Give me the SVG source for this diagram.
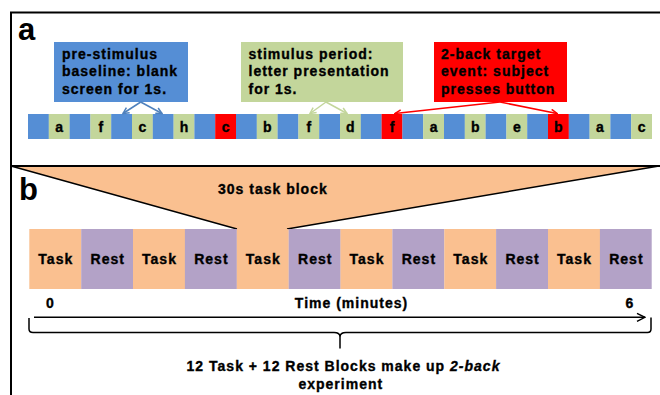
<svg xmlns="http://www.w3.org/2000/svg" width="660" height="395" viewBox="0 0 660 395">
<defs>
<style>
text{font-family:"Liberation Sans",Arial,sans-serif;font-weight:bold;fill:#000}
.lbl{font-size:14px;letter-spacing:1px;stroke:#000;stroke-width:0.35px}
.big{font-size:31px;letter-spacing:0}
.mid{text-anchor:middle}
.blue{fill:#558ED5}
.green{fill:#C3D69B}
.red{fill:#FF0000}
.task{fill:#FAC090}
.rest{fill:#B3A2C7}
.frame{stroke:#000;stroke-width:2;fill:none}
</style>
<marker id="ab" viewBox="0 0 8 8" refX="7" refY="4" markerWidth="8" markerHeight="8" markerUnits="userSpaceOnUse" orient="auto"><path d="M1,1 L7,4 L1,7" fill="none" stroke="#4F81BD" stroke-width="1.5"/></marker>
<marker id="ag" viewBox="0 0 8 8" refX="7" refY="4" markerWidth="8" markerHeight="8" markerUnits="userSpaceOnUse" orient="auto"><path d="M1,1 L7,4 L1,7" fill="none" stroke="#C3D69B" stroke-width="1.5"/></marker>
<marker id="ar" viewBox="0 0 8 8" refX="7" refY="4" markerWidth="8" markerHeight="8" markerUnits="userSpaceOnUse" orient="auto"><path d="M1,1 L7,4 L1,7" fill="none" stroke="#FF0000" stroke-width="1.5"/></marker>
<marker id="ak" viewBox="0 0 10 10" refX="9" refY="5" markerWidth="10" markerHeight="10" markerUnits="userSpaceOnUse" orient="auto"><path d="M1,1 L9,5 L1,9" fill="none" stroke="#000" stroke-width="1.4"/></marker>
</defs>
<rect width="660" height="395" fill="#fff"/>

<g id="frame">
<polygon points="11,166 659,166 287,229 237,229" class="task"/>
<path d="M11,166 L237,229 M287,229 L659,166" stroke="#000" stroke-width="1.4" fill="none"/>
<path d="M10,12.5 H660 M11,12 V395 M11,166 H660" class="frame"/>
<text x="18" y="40" class="big">a</text>
<text x="19" y="200" class="big">b</text>
</g>

<g id="box-baseline">
<rect x="54" y="42" width="134" height="60" class="blue"/>
<text class="lbl" x="62" y="58.5">pre-stimulus</text>
<text class="lbl" x="62" y="76">baseline: blank</text>
<text class="lbl" x="62" y="93.5">screen for 1s.</text>
</g>
<g id="box-stimulus">
<rect x="241" y="42" width="162" height="60" class="green"/>
<text class="lbl" x="248.5" y="58.5">stimulus period:</text>
<text class="lbl" x="248.5" y="76">letter presentation</text>
<text class="lbl" x="248.5" y="93.5">for 1s.</text>
</g>
<g id="box-target">
<rect x="434" y="42" width="133" height="60" class="red"/>
<text class="lbl" x="441" y="58.5">2-back target</text>
<text class="lbl" x="441" y="76">event: subject</text>
<text class="lbl" x="441" y="93.5">presses button</text>
</g>

<g id="strip">
<rect x="28" y="114" width="20.9" height="25" class="blue"/>
<rect x="48.8" y="114" width="20.9" height="25" class="green"/>
<rect x="69.6" y="114" width="20.9" height="25" class="blue"/>
<rect x="90.4" y="114" width="20.9" height="25" class="green"/>
<rect x="111.2" y="114" width="20.9" height="25" class="blue"/>
<rect x="132" y="114" width="20.9" height="25" class="green"/>
<rect x="152.8" y="114" width="20.9" height="25" class="blue"/>
<rect x="173.6" y="114" width="20.9" height="25" class="green"/>
<rect x="194.4" y="114" width="20.9" height="25" class="blue"/>
<rect x="215.2" y="114" width="20.9" height="25" class="red"/>
<rect x="236" y="114" width="20.9" height="25" class="blue"/>
<rect x="256.8" y="114" width="20.9" height="25" class="green"/>
<rect x="277.6" y="114" width="20.9" height="25" class="blue"/>
<rect x="298.4" y="114" width="20.9" height="25" class="green"/>
<rect x="319.2" y="114" width="20.9" height="25" class="blue"/>
<rect x="340" y="114" width="20.9" height="25" class="green"/>
<rect x="360.8" y="114" width="20.9" height="25" class="blue"/>
<rect x="381.6" y="114" width="20.9" height="25" class="red"/>
<rect x="402.4" y="114" width="20.9" height="25" class="blue"/>
<rect x="423.2" y="114" width="20.9" height="25" class="green"/>
<rect x="444" y="114" width="20.9" height="25" class="blue"/>
<rect x="464.8" y="114" width="20.9" height="25" class="green"/>
<rect x="485.6" y="114" width="20.9" height="25" class="blue"/>
<rect x="506.4" y="114" width="20.9" height="25" class="green"/>
<rect x="527.2" y="114" width="20.9" height="25" class="blue"/>
<rect x="548" y="114" width="20.9" height="25" class="red"/>
<rect x="568.8" y="114" width="20.9" height="25" class="blue"/>
<rect x="589.6" y="114" width="20.9" height="25" class="green"/>
<rect x="610.4" y="114" width="20.9" height="25" class="blue"/>
<rect x="631.2" y="114" width="20.8" height="25" class="green"/>
<text class="lbl mid" x="59.7" y="131.5">a</text>
<text class="lbl mid" x="101.3" y="131.5">f</text>
<text class="lbl mid" x="142.9" y="131.5">c</text>
<text class="lbl mid" x="184.5" y="131.5">h</text>
<text class="lbl mid" x="226.1" y="131.5">c</text>
<text class="lbl mid" x="267.7" y="131.5">b</text>
<text class="lbl mid" x="309.3" y="131.5">f</text>
<text class="lbl mid" x="350.9" y="131.5">d</text>
<text class="lbl mid" x="392.5" y="131.5">f</text>
<text class="lbl mid" x="434.1" y="131.5">a</text>
<text class="lbl mid" x="475.7" y="131.5">b</text>
<text class="lbl mid" x="517.3" y="131.5">e</text>
<text class="lbl mid" x="558.9" y="131.5">b</text>
<text class="lbl mid" x="600.5" y="131.5">a</text>
<text class="lbl mid" x="642.1" y="131.5">c</text>
</g>

<g id="blocks">
<rect x="29.3" y="229" width="52" height="60" class="task"/>
<rect x="81.2" y="229" width="52" height="60" class="rest"/>
<rect x="133" y="229" width="52" height="60" class="task"/>
<rect x="184.9" y="229" width="52" height="60" class="rest"/>
<rect x="236.8" y="229" width="52" height="60" class="task"/>
<rect x="288.7" y="229" width="52" height="60" class="rest"/>
<rect x="340.5" y="229" width="52" height="60" class="task"/>
<rect x="392.4" y="229" width="52" height="60" class="rest"/>
<rect x="444.3" y="229" width="52" height="60" class="task"/>
<rect x="496.1" y="229" width="52" height="60" class="rest"/>
<rect x="548" y="229" width="52" height="60" class="task"/>
<rect x="599.9" y="229" width="51.8" height="60" class="rest"/>
<text class="lbl mid" x="55.8" y="264">Task</text>
<text class="lbl mid" x="107.7" y="264">Rest</text>
<text class="lbl mid" x="159.5" y="264">Task</text>
<text class="lbl mid" x="211.4" y="264">Rest</text>
<text class="lbl mid" x="263.3" y="264">Task</text>
<text class="lbl mid" x="315.2" y="264">Rest</text>
<text class="lbl mid" x="367" y="264">Task</text>
<text class="lbl mid" x="418.9" y="264">Rest</text>
<text class="lbl mid" x="470.8" y="264">Task</text>
<text class="lbl mid" x="522.6" y="264">Rest</text>
<text class="lbl mid" x="574.5" y="264">Task</text>
<text class="lbl mid" x="626.4" y="264">Rest</text>
</g>

<g id="labels">
<text class="lbl" x="218" y="194">30s task block</text>
<text class="lbl mid" x="50.5" y="308">0</text>
<text class="lbl mid" x="351.5" y="308">Time (minutes)</text>
<text class="lbl mid" x="629.8" y="308">6</text>
<text class="lbl mid" x="343.5" y="371">12 Task + 12 Rest Blocks make up <tspan font-style="italic">2-back</tspan></text>
<text class="lbl mid" x="340.8" y="389">experiment</text>
</g>

<g id="connectors" fill="none">
<path d="M140.7,102 L123,113.5" stroke="#4F81BD" stroke-width="1.5" marker-end="url(#ab)"/>
<path d="M140.7,102 L162,113.5" stroke="#4F81BD" stroke-width="1.5" marker-end="url(#ab)"/>
<path d="M326,102 L310,113.5" stroke="#C3D69B" stroke-width="1.5" marker-end="url(#ag)"/>
<path d="M326,102 L347,113.5" stroke="#C3D69B" stroke-width="1.5" marker-end="url(#ag)"/>
<path d="M500,102 L395,113.5" stroke="#FF0000" stroke-width="1.5" marker-end="url(#ar)"/>
<path d="M500,102 L557,113.5" stroke="#FF0000" stroke-width="1.5" marker-end="url(#ar)"/>
<path d="M34,317.3 L645,317.3" stroke="#000" stroke-width="1.4" marker-end="url(#ak)"/>
<path d="M29,318 V329 Q29,332.5 33,332.5 H334 Q340,332.5 340,337 V348.5 M340,348.5 V337 Q340,332.5 346,332.5 H647.5 Q651,332.5 651,329 V317.5" stroke="#000" stroke-width="1.5"/>
</g>
</svg>
